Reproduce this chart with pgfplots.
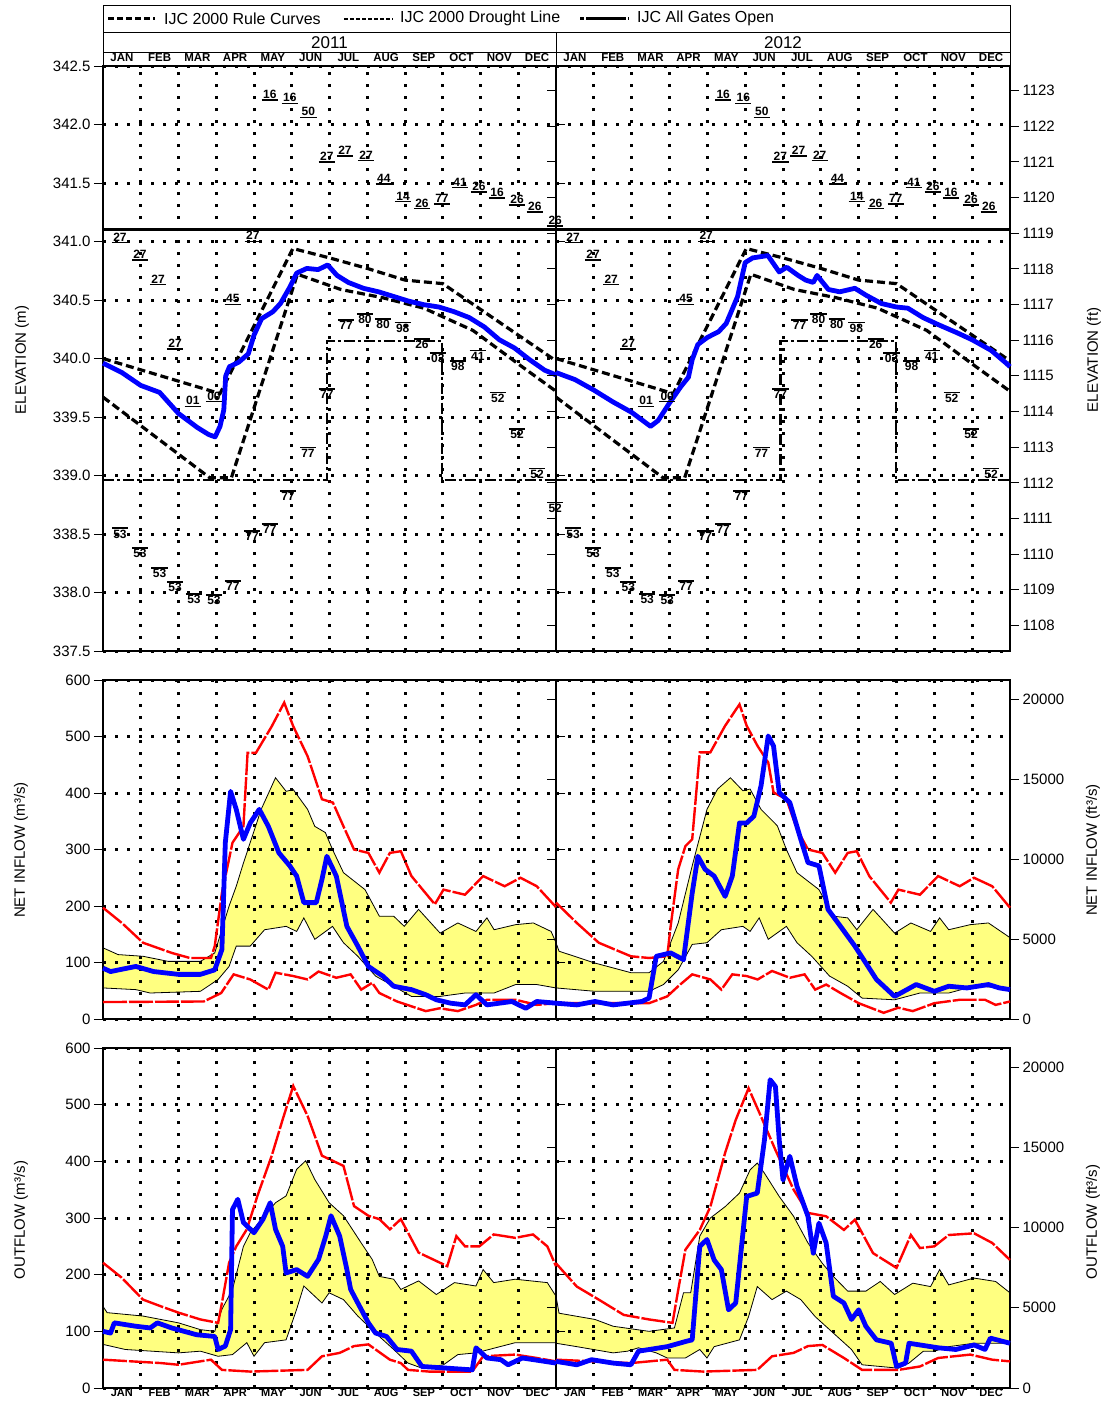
\documentclass[border=0pt]{standalone}
\usepackage{pgfplots}
\pgfplotsset{compat=1.18}
\usepackage{pgfplotstable}
\usepgfplotslibrary{fillbetween}
\usepackage{fontspec}
\setmainfont{Liberation Sans}
\setsansfont{Liberation Sans}
\definecolor{bandyellow}{RGB}{255,255,128}
\definecolor{obsblue}{RGB}{0,0,255}
\definecolor{recred}{RGB}{255,0,0}
\newcommand{\tickfont}{\fontsize{15}{17}\selectfont}
\newcommand{\monfont}{\fontsize{11.5}{12}\selectfont\bfseries}
\newcommand{\recfont}{\fontsize{12}{13}\selectfont\bfseries}
\newcommand{\labfont}{\fontsize{15}{17}\selectfont}
\newcommand{\ulab}[1]{\vtop{\hbox{\kern1.5pt#1\kern1.5pt}\kern0.6pt\hrule height 1.6pt}}
\newcommand{\olab}[1]{\vbox{\hrule height 1.6pt\kern0.6pt\hbox{\kern1.5pt#1\kern1.5pt}}}

% ---------------- Elevation data (months since Jan 1, metres) ----------------
\pgfplotstableread{
x y
0 339.96
0.5 339.88
1.0 339.77
1.5 339.71
2.0 339.53
2.5 339.41
2.8 339.35
2.97 339.33
3.1 339.42
3.2 339.56
3.25 339.85
3.35 339.93
3.6 339.97
3.85 340.04
4.0 340.20
4.2 340.34
4.5 340.40
4.7 340.47
4.95 340.61
5.13 340.73
5.4 340.77
5.7 340.76
5.95 340.80
6.2 340.71
6.5 340.65
6.9 340.60
7.3 340.57
7.7 340.53
8.1 340.49
8.5 340.46
8.9 340.44
9.3 340.40
9.7 340.35
10.1 340.27
10.5 340.16
10.9 340.09
11.3 339.99
11.7 339.90
12.0 339.86
}\elevA
\pgfplotstableread{
x y
0 339.88
0.5 339.82
1.0 339.73
1.5 339.63
2.0 339.54
2.5 339.42
2.7 339.47
3.0 339.62
3.3 339.76
3.5 339.84
3.6 339.99
3.75 340.12
4.0 340.18
4.3 340.23
4.5 340.30
4.8 340.53
5.0 340.82
5.2 340.86
5.6 340.88
5.9 340.74
6.1 340.78
6.4 340.71
6.6 340.67
6.8 340.65
6.9 340.71
7.2 340.59
7.5 340.57
7.9 340.60
8.2 340.54
8.6 340.47
9.0 340.44
9.3 340.43
9.7 340.35
10.1 340.29
10.6 340.22
11.0 340.16
11.5 340.07
11.9 339.96
12.0 339.93
}\elevB
\pgfplotstableread{
x y
0 340.00
3.1 339.70
5.03 340.94
6.0 340.86
7.0 340.77
8.0 340.67
9.0 340.64
10.0 340.42
11.0 340.20
12.0 339.98
}\ruleU
\pgfplotstableread{
x y
0 339.67
2.83 338.98
3.4 338.98
5.15 340.72
6.3 340.59
7.4 340.52
8.5 340.43
9.8 340.24
11.1 339.93
12.0 339.72
}\ruleL
\pgfplotstableread{
x y
0 338.96
5.93 338.96
5.93 340.15
8.98 340.15
8.98 338.96
12 338.96
}\gates
\pgfplotstableread{
x y t
0.45 341.03 27
0.98 340.88 27
1.46 340.67 27
1.91 340.12 27
2.38 339.63 01
2.94 339.67 00
3.44 340.50 45
3.97 341.04 27
4.42 342.25 16
4.95 342.22 16
5.44 342.10 50
5.93 341.72 27
6.41 341.77 27
6.97 341.73 27
7.44 341.53 44
7.95 341.38 14
8.45 341.32 26
8.98 341.36 77
9.46 341.50 41
9.96 341.46 26
10.44 341.41 16
10.97 341.35 26
11.44 341.29 26
}\labHi
\pgfplotstableread{
x y t
0.45 338.51 53
0.98 338.34 53
1.50 338.17 53
1.91 338.05 53
2.41 337.95 53
2.94 337.94 53
3.44 338.06 77
3.95 338.49 77
4.42 338.55 77
4.90 338.83 77
5.43 339.20 77
5.93 339.70 77
6.44 340.29 77
6.94 340.34 80
7.42 340.30 80
7.94 340.27 98
8.45 340.13 26
8.87 340.01 03
9.40 339.94 98
9.93 340.03 41
10.46 339.67 52
10.97 339.36 52
11.50 339.02 52
}\labLo
\pgfplotstableread{
x y t
11.98 341.17 26
}\labHiEnd
\pgfplotstableread{
x y t
11.98 338.73 52
}\labLoEnd

% ---------------- Net inflow 2011 (m3/s) ----------------
\pgfplotstableread{
x y
0 197
0.5 170
1.06 135
1.82 117
2.3 108
2.86 108
2.96 129
3.15 223
3.43 312
3.72 341
3.83 471
4.05 471
4.47 518
4.8 560
5.04 518
5.42 465
5.8 389
6.09 383
6.37 341
6.65 300
7.03 294
7.32 259
7.6 294
7.89 297
8.17 253
8.79 203
9.02 229
9.59 220
10.07 253
10.64 235
11.06 250
11.49 235
12 198
}\niAmax
\pgfplotstableread{
x y
0 30
2.67 31
3.13 46
3.46 79
3.9 70
4.38 52
4.57 82
5.04 76
5.42 70
5.71 84
6.18 73
6.56 79
6.84 52
7.13 64
7.32 46
7.79 31
8.55 14
8.92 19
9.4 14
9.88 25
10.17 34
10.93 34
11.49 25
12 28
}\niAmin
\pgfplotstableread{
x y
0 126
0.4 114
1.06 111
1.73 102
2.58 102
2.96 117
3.34 200
3.53 235
3.72 276
4.19 371
4.57 427
4.85 403
5.04 406
5.42 371
5.61 341
5.89 330
6.08 300
6.37 259
6.94 229
7.32 182
7.7 182
7.98 164
8.36 194
8.93 152
9.4 170
9.88 155
10.17 179
10.36 158
10.93 167
11.4 170
11.87 155
12 135
}\niAhi
\pgfplotstableread{
x y
0 55
0.87 52
1.25 46
2.58 49
3.05 70
3.34 93
3.53 129
3.9 129
4.28 158
4.85 164
5.13 155
5.32 179
5.61 141
6.08 164
6.37 135
6.75 111
7.22 76
7.7 58
8.17 40
8.93 40
9.59 46
10.36 46
10.93 61
11.49 61
12 55
}\niAlo
\pgfplotstableread{
x y
0 90
0.2 84
0.87 93
1.34 84
2.0 79
2.58 79
2.96 87
3.15 123
3.24 312
3.38 403
3.53 371
3.72 318
3.9 347
4.14 371
4.38 341
4.66 294
4.95 271
5.13 253
5.32 206
5.65 206
5.8 247
5.93 288
6.18 253
6.46 164
6.75 129
7.03 93
7.41 76
7.7 58
8.17 52
8.55 43
8.83 34
9.21 28
9.59 25
9.88 43
10.17 25
10.83 31
11.2 19
11.49 31
12 28
}\niAobs

% ---------------- Net inflow 2012 ----------------
\pgfplotstableread{
x y
0 206
0.55 170
1.13 135
1.98 111
2.46 108
2.94 111
3.03 164
3.23 265
3.42 306
3.6 318
3.8 472
4.08 472
4.47 519
4.85 557
5.04 519
5.33 483
5.61 454
5.75 401
6.09 389
6.37 336
6.66 300
7.04 294
7.38 259
7.71 294
7.95 297
8.28 253
8.85 206
9.05 229
9.62 220
10.1 253
10.67 235
11.05 250
11.53 235
12 197
}\niBmax
\pgfplotstableread{
x y
0 28
2.46 28
2.94 40
3.23 58
3.6 79
4.08 70
4.37 52
4.66 79
5.04 76
5.33 70
5.71 85
6.18 73
6.57 79
6.85 52
7.14 61
7.52 46
8.0 28
8.66 11
9.05 20
9.43 14
10.0 28
10.67 34
11.34 34
11.62 25
12 31
}\niBmin
\pgfplotstableread{
x y
0 135
0.08 120
1.03 99
1.98 82
2.46 82
2.84 102
3.23 170
3.6 271
3.99 371
4.27 407
4.61 427
4.94 404
5.13 407
5.42 371
5.85 342
6.09 300
6.37 259
6.95 229
7.33 182
7.71 179
7.95 158
8.38 194
8.95 152
9.38 170
9.9 155
10.14 179
10.38 158
10.95 167
11.43 170
12 144
}\niBhi
\pgfplotstableread{
x y
0 55
1.03 49
2.46 49
2.84 61
3.23 87
3.6 132
3.99 135
4.37 158
4.94 164
5.13 155
5.37 179
5.61 141
6.09 164
6.37 135
6.76 111
7.23 76
7.71 58
8.09 37
8.95 34
9.62 46
10.38 46
11.05 58
12 55
}\niBlo
\pgfplotstableread{
x y
0 28
0.55 25
1.03 31
1.51 25
2.27 31
2.46 37
2.65 111
3.03 117
3.37 105
3.6 223
3.75 288
3.94 265
4.18 253
4.47 217
4.66 253
4.85 347
5.04 347
5.23 359
5.42 413
5.61 501
5.75 483
5.9 401
6.18 383
6.47 318
6.66 277
6.95 271
7.19 194
7.52 164
7.9 129
8.19 99
8.47 70
8.95 40
9.52 61
10.0 49
10.38 58
10.86 55
11.43 61
11.72 55
12 52
}\niBobs

% ---------------- Outflow 2011 ----------------
\pgfplotstableread{
x y
0 221
0.49 195
1.06 156
1.54 144
2.0 133
2.58 121
3.05 115
3.15 150
3.34 221
3.53 250
3.81 280
4.09 339
4.47 410
4.76 474
5.04 533
5.42 480
5.8 410
6.37 392
6.65 321
7.03 304
7.32 298
7.6 280
7.89 298
8.36 239
9.12 215
9.36 268
9.59 250
9.97 250
10.35 271
10.92 265
11.39 271
11.77 250
12 215
}\ofAmax
\pgfplotstableread{
x y
0 50
1.54 44
2.0 41
2.86 50
3.15 32
3.9 29
5.42 32
5.8 56
6.27 62
6.65 74
7.03 77
7.6 50
7.89 44
8.08 32
8.64 29
9.78 29
10.07 56
10.92 59
11.49 53
12 47
}\ofAmin
\pgfplotstableread{
x y
0 144
0.11 133
1.06 127
2.0 115
2.58 103
2.96 100
3.15 139
3.43 174
3.72 250
3.9 274
4.28 304
4.57 327
4.85 339
5.13 386
5.37 401
5.61 368
5.99 327
6.37 304
6.84 256
7.13 227
7.32 197
7.7 192
7.89 174
8.36 189
8.83 165
9.31 186
9.88 180
10.07 209
10.35 186
10.92 192
11.77 186
12 162
}\ofAhi
\pgfplotstableread{
x y
0 77
0.59 68
2.0 62
2.58 65
3.05 56
3.43 59
3.81 80
4.0 56
4.28 80
4.85 85
5.13 139
5.32 180
5.8 150
5.99 168
6.37 156
6.75 127
7.22 97
7.7 68
8.08 44
8.45 35
9.02 41
9.4 59
9.88 62
10.92 80
12 80
}\ofAlo
\pgfplotstableread{
x y
0 100
0.2 97
0.3 115
0.87 109
1.25 106
1.44 115
1.82 106
2.48 94
2.96 91
3.05 68
3.24 74
3.38 103
3.43 315
3.57 333
3.72 292
4.0 274
4.24 298
4.43 327
4.57 280
4.76 250
4.85 203
5.13 209
5.42 197
5.71 227
5.9 268
6.04 304
6.27 268
6.46 209
6.56 174
6.75 150
7.03 115
7.22 97
7.51 91
7.79 68
8.17 65
8.45 38
9.12 35
9.78 32
9.88 71
10.17 53
10.54 50
10.73 41
11.11 53
12 44
}\ofAobs

% ---------------- Outflow 2012 ----------------
\pgfplotstableread{
x y
0 220
0.55 179
1.13 156
1.79 129
2.46 121
3.08 115
3.23 173
3.42 244
3.8 279
4.08 320
4.47 415
4.75 473
5.09 529
5.42 479
5.8 420
6.28 350
6.66 309
7.14 303
7.61 279
7.9 297
8.38 238
9.0 212
9.38 270
9.62 247
10.0 250
10.38 270
11.05 273
11.53 256
12 226
}\ofBmax
\pgfplotstableread{
x y
0 50
1.98 44
2.94 50
3.13 32
3.89 29
5.32 32
5.71 56
6.28 62
6.66 74
7.04 76
7.61 53
8.09 32
9.05 32
9.62 38
10.1 53
10.95 59
11.53 50
12 47
}\ofBmin
\pgfplotstableread{
x y
0 162
0.08 132
1.03 121
1.51 109
2.46 100
3.13 106
3.37 168
3.56 168
3.8 268
4.08 300
4.47 320
4.85 344
5.13 385
5.32 397
5.51 379
5.9 338
6.28 303
6.66 256
7.04 220
7.33 197
7.71 171
8.19 171
8.57 188
8.95 165
9.43 185
9.9 179
10.14 209
10.38 182
11.05 194
11.62 188
12 168
}\ofBhi
\pgfplotstableread{
x y
0 79
0.55 73
1.51 62
1.89 65
2.18 71
2.65 62
2.94 53
3.42 53
3.8 68
3.99 53
4.18 73
4.85 85
5.09 126
5.32 179
5.71 156
6.09 171
6.47 156
6.85 126
7.33 97
7.81 68
8.09 41
9.05 35
9.33 44
9.71 65
10.0 65
10.38 73
11.05 79
12 79
}\ofBlo
\pgfplotstableread{
x y
0 47
0.55 41
0.94 50
1.51 44
1.98 41
2.18 65
2.94 73
3.42 82
3.6 85
3.8 250
3.99 262
4.18 226
4.37 209
4.56 138
4.75 150
5.04 338
5.32 344
5.51 438
5.66 544
5.8 532
5.9 438
6.0 367
6.18 409
6.37 356
6.66 303
6.8 238
6.95 291
7.14 256
7.33 162
7.61 150
7.81 121
8.0 138
8.19 109
8.47 85
8.86 79
9.0 38
9.24 44
9.33 79
10.1 71
10.57 68
11.05 76
11.34 68
11.48 88
12 79
}\ofBobs

\pgfplotsset{
  panel/.style={
    set layers, scale only axis, xmin=0, xmax=12, clip=false,
    axis line style={line width=1.1pt},
    xtick={0.5,1.5,...,11.5},
    xticklabels={JAN,FEB,MAR,APR,MAY,JUN,JUL,AUG,SEP,OCT,NOV,DEC},
    minor xtick={1,2,...,11},
    xminorgrids, ymajorgrids,
    xtick style={draw=none},
    grid style={black, line width=3pt, dash pattern=on 3pt off 9pt},
    tick align=outside, major tick length=9pt,
    tick label style={font=\tickfont},
    xticklabel style={font=\monfont},
    ytick style={black, line width=1pt},
    /pgf/number format/assume math mode=true,
    /pgf/number format/1000 sep={},
  },
  noyticks/.style={yticklabels={}, ytick style={draw=none}},
  ftaxis/.style={scale only axis, xmin=0, xmax=12, hide x axis, axis y line*=right,
    axis line style={draw=none}, tick align=outside, major tick length=9pt,
    scaled y ticks=false,
    ytick style={black, line width=1pt},
    tick label style={font=\tickfont},
    /pgf/number format/assume math mode=true,
    /pgf/number format/1000 sep={}},
  reclab/.style={draw=none, mark=none, point meta=explicit symbolic,
    every node near coord/.append style={font=\recfont, anchor=center, inner sep=0pt, black}},
  reclabhi/.style={reclab, nodes near coords={\ulab{\pgfplotspointmeta}}},
  reclablo/.style={reclab, nodes near coords={\olab{\pgfplotspointmeta}}},
  ruleline/.style={black, line width=3.2pt, dash pattern=on 8pt off 4pt},
  gateline/.style={black, line width=2.4pt, dash pattern=on 11pt off 3pt on 3pt off 3pt},
  recline/.style={recred, line width=2.4pt, dash pattern=on 24pt off 2pt},
  obsline/.style={obsblue, line width=4.8pt, line join=round},
  bandline/.style={black, line width=0.8pt},
  bottommonths/.style={xticklabel shift=-9pt,
    xticklabel style={font=\fontsize{11}{11}\selectfont\bfseries, inner sep=0.5pt}},
}

\begin{document}
\begin{tikzpicture}

% ---------- legend and header ----------
\draw[line width=1pt] (103pt,-5pt) rectangle (1010pt,-66pt);
\draw[line width=1pt] (103pt,-32pt) -- (1010pt,-32pt);
\draw[line width=1pt] (103pt,-52pt) -- (1010pt,-52pt);
\draw[line width=1pt] (556pt,-32pt) -- (556pt,-66pt);
\draw[line width=3.4pt, dash pattern=on 6pt off 3pt] (108pt,-18.5pt) -- (155pt,-18.5pt);
\node[anchor=west, inner sep=0pt, font=\fontsize{16}{18}\selectfont] at (164pt,-18.5pt) {IJC 2000 Rule Curves};
\draw[line width=2pt, dash pattern=on 4pt off 2pt] (344pt,-18.5pt) -- (393pt,-18.5pt);
\node[anchor=west, inner sep=0pt, font=\fontsize{16}{18}\selectfont] at (400pt,-18.5pt) {IJC 2000 Drought Line};
\draw[line width=2.6pt, dash pattern=on 4pt off 2pt on 40pt off 2pt] (580pt,-18.5pt) -- (629pt,-18.5pt);
\node[anchor=west, inner sep=0pt, font=\fontsize{16}{18}\selectfont] at (637pt,-18.5pt) {IJC All Gates Open};
\node[font=\fontsize{17}{19}\selectfont, inner sep=0pt] at (329.5pt,-42.5pt) {2011};
\node[font=\fontsize{17}{19}\selectfont, inner sep=0pt] at (783pt,-42.5pt) {2012};

% ---------- axis titles ----------
\node[rotate=90, font=\labfont] at (22pt,-360pt) {ELEVATION (m)};
\node[rotate=90, font=\labfont] at (1094pt,-360pt) {ELEVATION (ft)};
\node[rotate=90, font=\labfont] at (21pt,-850pt) {NET INFLOW (m³/s)};
\node[rotate=90, font=\labfont] at (1093pt,-850pt) {NET INFLOW (ft³/s)};
\node[rotate=90, font=\labfont] at (21pt,-1220pt) {OUTFLOW (m³/s)};
\node[rotate=90, font=\labfont] at (1093pt,-1222pt) {OUTFLOW (ft³/s)};

% ================= ELEVATION 2011 =================
\begin{axis}[panel, at={(103pt,-66pt)}, anchor=north west, width=453pt, height=585pt,
  ymin=337.5, ymax=342.5, ytick={337.5,338,338.5,339,339.5,340,340.5,341,341.5,342,342.5},
  yticklabel style={/pgf/number format/.cd, fixed, fixed zerofill, precision=1},
  xticklabel pos=upper, xticklabel shift=-8.5pt]
\addplot[black, line width=3pt] coordinates {(0,341.1) (12,341.1)};
\addplot[ruleline] table {\ruleU};
\addplot[ruleline] table {\ruleL};
\addplot[gateline] table {\gates};
\addplot[obsline] table {\elevA};
\addplot[reclabhi] table[meta=t] {\labHi};
\addplot[reclablo] table[meta=t] {\labLo};
\addplot[reclabhi] table[meta=t] {\labHiEnd};
\addplot[reclablo] table[meta=t] {\labLoEnd};
\end{axis}
\begin{axis}[ftaxis, at={(103pt,-66pt)}, anchor=north west, width=453pt, height=585pt,
  ymin=1107.2835, ymax=1123.6877, ytick={1108,1109,...,1123}, yticklabels={}, tick align=inside]
\addplot[draw=none] coordinates {(0,1110) (12,1120)};
\end{axis}

% ================= ELEVATION 2012 =================
\begin{axis}[panel, noyticks, at={(556pt,-66pt)}, anchor=north west, width=454pt, height=585pt,
  ymin=337.5, ymax=342.5, ytick={337.5,338,338.5,339,339.5,340,340.5,341,341.5,342,342.5},
  xticklabel pos=upper, xticklabel shift=-8.5pt]
\addplot[black, line width=3pt] coordinates {(0,341.1) (12,341.1)};
\addplot[ruleline] table {\ruleU};
\addplot[ruleline] table {\ruleL};
\addplot[gateline] table {\gates};
\addplot[obsline] table {\elevB};
\addplot[reclabhi] table[meta=t] {\labHi};
\addplot[reclablo] table[meta=t] {\labLo};
\end{axis}
\begin{axis}[ftaxis, at={(556pt,-66pt)}, anchor=north west, width=454pt, height=585pt,
  ymin=1107.2835, ymax=1123.6877, ytick={1108,1109,...,1123}]
\addplot[draw=none] coordinates {(0,1110) (12,1120)};
\end{axis}
\draw[line width=2.6pt] (103pt,-66pt) -- (1010pt,-66pt);

% ================= NET INFLOW 2011 =================
\begin{axis}[panel, at={(103pt,-680pt)}, anchor=north west, width=453pt, height=339pt,
  ymin=0, ymax=600, ytick={0,100,...,600}, xticklabels={}]
\addplot[name path=hiA, bandline] table {\niAhi};
\addplot[name path=loA, bandline] table {\niAlo};
\addplot[bandyellow] fill between[of=hiA and loA, on layer=axis background];
\addplot[recline] table {\niAmax};
\addplot[recline] table {\niAmin};
\addplot[obsline] table {\niAobs};
\end{axis}
\begin{axis}[ftaxis, at={(103pt,-680pt)}, anchor=north west, width=453pt, height=339pt,
  ymin=0, ymax=21188.8, ytick={0,5000,...,20000}, yticklabels={}, tick align=inside]
\addplot[draw=none] coordinates {(0,1000) (12,10000)};
\end{axis}

% ================= NET INFLOW 2012 =================
\begin{axis}[panel, noyticks, at={(556pt,-680pt)}, anchor=north west, width=454pt, height=339pt,
  ymin=0, ymax=600, ytick={0,100,...,600}, xticklabels={}]
\addplot[name path=hiB, bandline] table {\niBhi};
\addplot[name path=loB, bandline] table {\niBlo};
\addplot[bandyellow] fill between[of=hiB and loB, on layer=axis background];
\addplot[recline] table {\niBmax};
\addplot[recline] table {\niBmin};
\addplot[obsline] table {\niBobs};
\end{axis}
\begin{axis}[ftaxis, at={(556pt,-680pt)}, anchor=north west, width=454pt, height=339pt,
  ymin=0, ymax=21188.8, ytick={0,5000,...,20000}]
\addplot[draw=none] coordinates {(0,1000) (12,10000)};
\end{axis}

% ================= OUTFLOW 2011 =================
\begin{axis}[panel, bottommonths, at={(103pt,-1048pt)}, anchor=north west, width=453pt, height=340pt,
  ymin=0, ymax=600, ytick={0,100,...,600}]
\addplot[name path=hiC, bandline] table {\ofAhi};
\addplot[name path=loC, bandline] table {\ofAlo};
\addplot[bandyellow] fill between[of=hiC and loC, on layer=axis background];
\addplot[recline] table {\ofAmax};
\addplot[recline] table {\ofAmin};
\addplot[obsline] table {\ofAobs};
\end{axis}
\begin{axis}[ftaxis, at={(103pt,-1048pt)}, anchor=north west, width=453pt, height=340pt,
  ymin=0, ymax=21188.8, ytick={0,5000,...,20000}, yticklabels={}, tick align=inside]
\addplot[draw=none] coordinates {(0,1000) (12,10000)};
\end{axis}

% ================= OUTFLOW 2012 =================
\begin{axis}[panel, noyticks, bottommonths, at={(556pt,-1048pt)}, anchor=north west, width=454pt, height=340pt,
  ymin=0, ymax=600, ytick={0,100,...,600}]
\addplot[name path=hiD, bandline] table {\ofBhi};
\addplot[name path=loD, bandline] table {\ofBlo};
\addplot[bandyellow] fill between[of=hiD and loD, on layer=axis background];
\addplot[recline] table {\ofBmax};
\addplot[recline] table {\ofBmin};
\addplot[obsline] table {\ofBobs};
\end{axis}
\begin{axis}[ftaxis, at={(556pt,-1048pt)}, anchor=north west, width=454pt, height=340pt,
  ymin=0, ymax=21188.8, ytick={0,5000,...,20000}]
\addplot[draw=none] coordinates {(0,1000) (12,10000)};
\end{axis}

\pgfresetboundingbox
\useasboundingbox (0pt,0pt) rectangle (1107pt,-1401pt);
\end{tikzpicture}
\end{document}
